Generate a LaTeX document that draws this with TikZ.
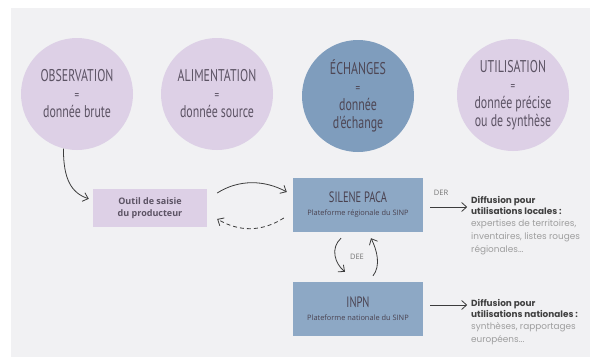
\documentclass[tikz,border=0pt]{standalone}
\usepackage{fontspec}
\usetikzlibrary{arrows.meta}

\newfontfamily\circfont[FakeStretch=0.7]{PT Sans}
\newfontfamily\boxfont{Open Sans}
\newfontfamily\difffont{Poppins}

\definecolor{fondcolor}{HTML}{F1F1F3}
\definecolor{lilacolor}{HTML}{DDD0E6}
\definecolor{bleucolor}{HTML}{7F9DBD}
\definecolor{boitecolor}{HTML}{8DA8C5}
\definecolor{textecolor}{HTML}{5C5364}
\definecolor{flechecolor}{HTML}{3C3C3C}

\newlength{\du}
\setlength{\du}{1pt}

\newcommand{\egal}{{\fontsize{13}{18}\selectfont =}}
\newcommand{\titrediff}[1]{{\bfseries\color{black!75}#1}}
\newcommand{\textediff}[1]{{\color{black!38}#1}}

\tikzset{
  rond/.style={circle, minimum size=112\du, inner sep=0pt, align=center,
    text=textecolor, font=\circfont\fontsize{17}{18}\selectfont},
  boite/.style={rectangle, inner sep=0pt, align=center, minimum width=130\du,
    minimum height=54\du, fill=boitecolor, text=textecolor!80!black},
  fleche/.style={draw=flechecolor, line width=0.8pt, -{Straight Barb[length=5pt,width=9pt]}},
  diffusion/.style={anchor=north west, align=left, inner sep=0pt,
    font=\difffont\fontsize{8.9}{11}\selectfont},
  etiquette/.style={text=black!55, font=\boxfont\fontsize{7.5}{8}\selectfont}
}

\begin{document}
\begin{tikzpicture}[x=1\du, y=-1\du]
\useasboundingbox (0,0) rectangle (590,357);
\fill[fondcolor] (11,8) rectangle (590,357);

% les quatre etapes
\node[rond, fill=lilacolor] (obs) at (77,94) {OBSERVATION\\\egal\\donnée brute};
\node[rond, fill=lilacolor] (ali) at (217,94) {ALIMENTATION\\\egal\\donnée source};
\node[rond, fill=bleucolor, text=textecolor!85!black] (ech) at (358,96) {ÉCHANGES\\\egal\\donnée\\d'échange};
\node[rond, fill=lilacolor] (uti) at (513,95) {UTILISATION\\\egal\\donnée précise\\ou de synthèse};

% outils et plateformes
\node[rectangle, fill=lilacolor, minimum width=114\du, minimum height=38\du, inner sep=0pt,
  align=center, text=textecolor, font=\boxfont\bfseries\fontsize{9}{11.5}\selectfont]
  (outil) at (150,208) {Outil de saisie\\du producteur};
\node[boite] (silene) at (358,205) {{\circfont\fontsize{15}{16}\selectfont SILENE PACA}\\[1pt]
  {\boxfont\fontsize{7.4}{9}\selectfont Plateforme régionale du SINP}};
\node[boite] (inpn) at (358,309) {{\circfont\fontsize{15}{16}\selectfont INPN}\\[1pt]
  {\boxfont\fontsize{7.4}{9}\selectfont Plateforme nationale du SINP}};

\node[etiquette] (der) at (441,193) {DER};
\node[etiquette] (dee) at (357,257) {DEE};

% diffusion
\node[diffusion] (loc) at (471,196) {\titrediff{Diffusion pour}\\
  \titrediff{utilisations locales :}\\[1pt]
  \textediff{expertises de territoires,}\\[2pt]
  \textediff{inventaires, listes rouges}\\[2pt]
  \textediff{régionales...}};
\node[diffusion] (nat) at (471,299) {\titrediff{Diffusion pour}\\
  \titrediff{utilisations nationales :}\\[1pt]
  \textediff{synthèses, rapportages}\\[2pt]
  \textediff{européens...}};

% fleches
\draw[fleche] (obs.256) .. controls +(0,30) and +(-18,-6) .. ([shift={(-4,10)}]outil.north west);
\draw[fleche] ([shift={(10,-15)}]outil.east) .. controls +(22,-14) and +(-22,-12) .. ([shift={(-6,-13)}]silene.west);
\draw[fleche, dash pattern=on 4pt off 3pt] ([shift={(-9,13)}]silene.west) .. controls +(-22,14) and +(22,13) .. ([shift={(10,11)}]outil.east);
\draw[fleche] ([shift={(-17,6)}]silene.south) .. controls +(-11,10) and +(-10,-8) .. ([shift={(-13,-10)}]inpn.north);
\draw[fleche] ([shift={(15,-6)}]inpn.north) .. controls +(8,-10) and +(6,12) .. ([shift={(13,6)}]silene.south);
\draw[fleche] ([shift={(7,2)}]silene.east) -- ++(37,0);
\draw[fleche] ([shift={(7,-4)}]inpn.east) -- ++(37,0);
\end{tikzpicture}
\end{document}
